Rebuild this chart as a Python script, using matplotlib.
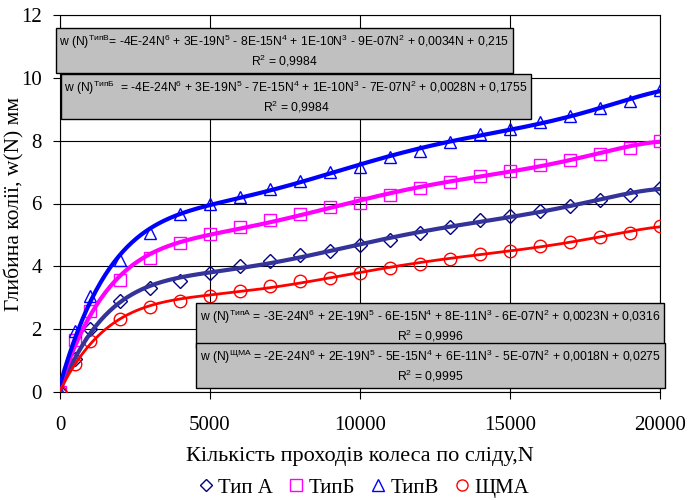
import numpy as np
import matplotlib
matplotlib.use("Agg")
import matplotlib.pyplot as plt
from matplotlib.lines import Line2D

plt.rcParams['font.family'] = ['Liberation Serif', 'DejaVu Serif']
plt.rcParams['mathtext.fontset'] = 'custom'
plt.rcParams['mathtext.rm'] = 'Liberation Sans'
plt.rcParams['mathtext.it'] = 'Liberation Sans:italic'

N = [0, 500, 1000, 2000, 3000, 4000, 5000, 6000, 7000, 8000, 9000, 10000,
     11000, 12000, 13000, 14000, 15000, 16000, 17000, 18000, 19000, 20000]
typ_a = [0, 1.04, 1.99, 2.89, 3.31, 3.54, 3.79, 4.00, 4.16, 4.35, 4.48, 4.67,
         4.85, 5.06, 5.25, 5.46, 5.59, 5.75, 5.93, 6.12, 6.28, 6.49]
typ_b = [0, 1.67, 2.59, 3.58, 4.26, 4.74, 5.03, 5.24, 5.48, 5.66, 5.90, 6.01,
         6.28, 6.49, 6.70, 6.88, 7.05, 7.23, 7.39, 7.57, 7.78, 8.00]
typ_v = [0, 1.94, 3.05, 4.21, 5.06, 5.66, 5.98, 6.22, 6.47, 6.72, 7.00, 7.17,
         7.47, 7.68, 7.97, 8.21, 8.38, 8.58, 8.78, 9.03, 9.25, 9.62]
shma = [0, 0.88, 1.62, 2.33, 2.70, 2.91, 3.05, 3.23, 3.37, 3.52, 3.63, 3.79,
        3.95, 4.07, 4.23, 4.40, 4.50, 4.66, 4.79, 4.92, 5.06, 5.29]

labels = ["Тип А", "ТипБ", "ТипВ", "ЩМА"]
eq_v = "w (N)$^{\\mathregular{ТипВ}}$= -4E-24N$^{6}$ + 3E-19N$^{5}$ - 8E-15N$^{4}$ + 1E-10N$^{3}$ - 9E-07N$^{2}$ + 0,0034N + 0,215\nR$^{2}$ = 0,9984"
eq_b = "w (N)$^{\\mathregular{ТипБ}}$  = -4E-24N$^{6}$ + 3E-19N$^{5}$ - 7E-15N$^{4}$ + 1E-10N$^{3}$ - 7E-07N$^{2}$ + 0,0028N + 0,1755\nR$^{2}$ = 0,9984"
eq_a = "w (N)$^{\\mathregular{ТипА}}$ = -3E-24N$^{6}$ + 2E-19N$^{5}$ - 6E-15N$^{4}$ + 8E-11N$^{3}$ - 6E-07N$^{2}$ + 0,0023N + 0,0316\nR$^{2}$ = 0,9996"
eq_s = "w (N)$^{\\mathregular{ЩМА}}$ = -2E-24N$^{6}$ + 2E-19N$^{5}$ - 5E-15N$^{4}$ + 6E-11N$^{3}$ - 5E-07N$^{2}$ + 0,0018N + 0,0275\nR$^{2}$ = 0,9995"

fig = plt.figure(figsize=(6.88, 5.0), dpi=100)
ax = fig.add_axes([60/688, 1-392/500, 600/688, 377/500])

x = np.array(N, dtype=float)
xs = np.linspace(0, 20000, 400)
series = [
    (typ_a, '#000080', '#333399', 'D', 3.0, 7),
    (typ_b, '#ff00ff', '#ff00ff', 's', 3.0, 9),
    (typ_v, '#0000ff', '#0000ff', '^', 3.0, 9),
    (shma, '#ff0000', '#ff0000', 'o', 2.0, 9),
]
handles = []
for (vals, mcol, lcol, mk, lw, ms), lab in zip(series, labels):
    y = np.array(vals)
    ax.plot(x, y, linestyle='none', marker=mk, markersize=ms,
            markerfacecolor='none', markeredgecolor=mcol, markeredgewidth=1.0, zorder=3)
    c = np.polyfit(x / 1e4, y, 6)
    ax.plot(xs, np.polyval(c, xs / 1e4), color=lcol, lw=lw, zorder=4)
    handles.append(Line2D([], [], linestyle='none', marker=mk, markersize=ms - 1,
                          markerfacecolor='none', markeredgecolor=mcol, markeredgewidth=1.0))

ax.set_xlim(0, 20000)
ax.set_ylim(0, 12)
ax.set_xticks([0, 5000, 10000, 15000, 20000])
ax.set_yticks(range(0, 13, 2))
ax.grid(True, color='black', lw=0.8)
for s in ax.spines.values():
    s.set_color('black')
    s.set_linewidth(0.8)
ax.tick_params(labelsize=15, direction='out', length=5, color='black')
ax.tick_params(axis='x', pad=12)
ax.tick_params(axis='y', pad=8)
ax.set_xlabel("Кількість проходів колеса по сліду,N", fontsize=16, labelpad=9)
ax.set_ylabel("Глибина колії, w(N) мм", fontsize=15.5)
ax.yaxis.set_label_coords(-36/600, 0.5)

boxprops = dict(boxstyle='square,pad=0.3', facecolor='#c0c0c0', edgecolor='black', lw=1.0)
for txt, cx, cy in [(eq_v, 284.5, 51), (eq_b, 296, 97), (eq_a, 430, 326), (eq_s, 430.5, 366)]:
    fig.text(cx/688, 1-cy/500, txt, ha='center', va='center', multialignment='center',
             fontsize=8.7, family=['Liberation Sans', 'DejaVu Sans'], bbox=boxprops, zorder=10,
             linespacing=1.15)

fig.legend(handles, labels, loc='center', bbox_to_anchor=(362/688, 1-488/500), ncol=4,
           frameon=False, fontsize=15, handletextpad=0.1, columnspacing=0.6, handlelength=1.0)

fig.savefig("out.png", dpi=100)
